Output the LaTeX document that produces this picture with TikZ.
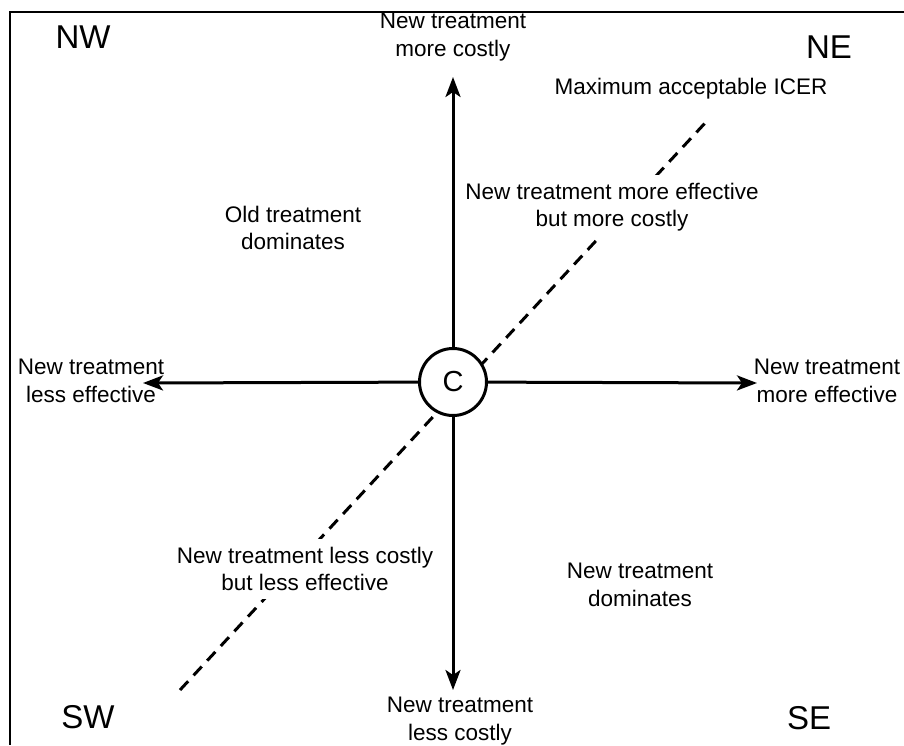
\documentclass[tikz,border=0pt]{standalone}
\usepackage{fontspec}
\setmainfont{Liberation Sans}
\usetikzlibrary{arrows.meta}
\begin{document}
\begin{tikzpicture}[x=1pt,y=-1pt,
  lbl/.style={align=center,inner sep=0pt,font=\fontsize{22.5}{27.5}\selectfont},
  region/.style={lbl,fill=white,inner xsep=4pt,inner ysep=8pt},
  corner/.style={inner sep=0pt,font=\fontsize{33}{40}\selectfont},
  axis/.style={line width=3pt,-{Stealth[length=20pt,width=15pt,inset=5pt]}},
  icer/.style={line width=3pt,dash pattern=on 12pt off 8pt},
  frame/.style={line width=2.4pt}]
\useasboundingbox (0,0) rectangle (904,745);

% frame
\draw[frame] (904,12) -- (10,12) -- (10,745);

% maximum acceptable ICER threshold
\coordinate (icerLow) at (180,690);
\coordinate (icerHigh) at (706,122);
\draw[icer] (icerLow) -- (icerHigh);

% origin
\node[circle,draw,fill=white,line width=3pt,minimum size=67pt,inner sep=0pt,
      font=\fontsize{29}{34}\selectfont] (C) at (453,382) {C};

% axis end points
\coordinate (tipN) at (453,77);
\coordinate (tipS) at (453,690);
\coordinate (tipW) at (143,383);
\coordinate (tipE) at (757,383);
\draw[axis] (C) -- (tipN);
\draw[axis] (C) -- (tipS);
\draw[axis] (C) -- (tipW);
\draw[axis] (C) -- (tipE);

% axis labels
\node[lbl] (up) at (453,37) {New treatment\\more costly};
\node[lbl] (down) at (460,721) {New treatment\\less costly};
\node[lbl] (left) at (91,381) {New treatment\\less effective};
\node[lbl] (right) at (827,381) {New treatment\\more effective};

% quadrant names
\node[corner] (NW) at (83,37) {NW};
\node[corner] (NE) at (829,47) {NE};
\node[corner] (SW) at (88,717) {SW};
\node[corner] (SE) at (809,718) {SE};

% region descriptions
\node[lbl] (icerlbl) at (691,89) {Maximum acceptable ICER};
\node[lbl] (old) at (293,228) {Old treatment\\dominates};
\node[region] (ne) at (612,207) {New treatment more effective\\but more costly};
\node[region] (sw) at (305,569) {New treatment less costly\\but less effective};
\node[lbl] (se) at (640,585) {New treatment\\dominates};
\end{tikzpicture}
\end{document}
